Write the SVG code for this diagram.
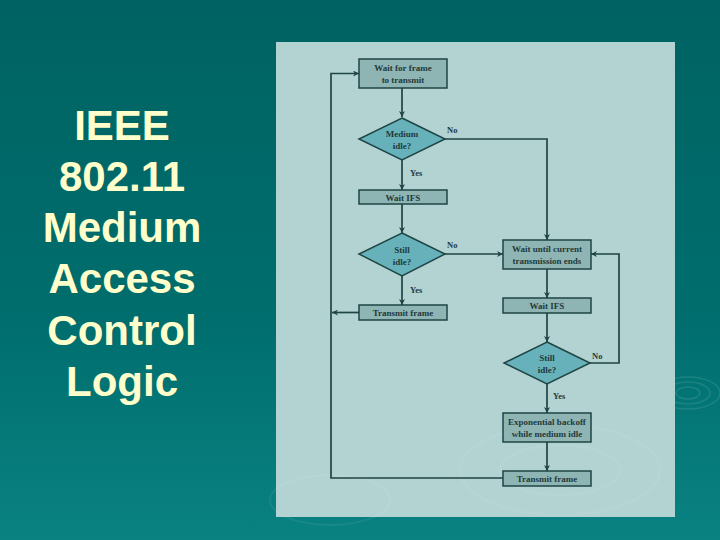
<svg xmlns="http://www.w3.org/2000/svg" width="720" height="540" viewBox="0 0 720 540">
<defs>
<linearGradient id="bg" x1="0" y1="0" x2="0" y2="1">
<stop offset="0" stop-color="#006262"/>
<stop offset="0.6" stop-color="#006e6e"/>
<stop offset="1" stop-color="#0a8282"/>
</linearGradient>
<marker id="arr" viewBox="0 0 10 10" refX="10" refY="5" markerWidth="6" markerHeight="6" orient="auto" markerUnits="userSpaceOnUse">
<path d="M0,0 L10,5 L0,10 L3,5 Z" fill="#1f4444"/>
</marker>
<style>
.title{font-family:"Liberation Sans",Arial,sans-serif;font-weight:bold;font-size:42px;fill:#ffffcc;text-anchor:middle}
.box{fill:#8fb4b4;stroke:#1f4444;stroke-width:1.5}
.dia{fill:#67b2ba;stroke:#1f4444;stroke-width:1.5}
.t{font-family:"Liberation Serif","Times New Roman",serif;font-weight:bold;font-size:9px;fill:#1e3a3a;text-anchor:middle}
.lbl{font-family:"Liberation Serif","Times New Roman",serif;font-weight:bold;font-size:8.5px;fill:#1e3a3a}
.c{fill:none;stroke:#1f4444;stroke-width:1.7}
.rip{fill:none;stroke:#ffffff;stroke-opacity:0.1;stroke-width:1.5}
.rip2{fill:none;stroke:#ffffff;stroke-opacity:0.06;stroke-width:2}
</style>
</defs>
<rect x="0" y="0" width="720" height="540" fill="url(#bg)"/>
<g id="ripples-bg">
<ellipse class="rip" cx="688" cy="393" rx="12" ry="6"/>
<ellipse class="rip" cx="688" cy="393" rx="22" ry="11"/>
<ellipse class="rip" cx="688" cy="393" rx="32" ry="16"/>
</g>
<g id="title">
<text class="title" x="122" y="140">IEEE</text>
<text class="title" x="122" y="191">802.11</text>
<text class="title" x="122" y="242">Medium</text>
<text class="title" x="122" y="293">Access</text>
<text class="title" x="122" y="345">Control</text>
<text class="title" x="122" y="396">Logic</text>
</g>
<rect id="panel" x="276" y="42" width="399" height="475" fill="#b3d3d3"/>
<g id="ripples-panel">
<ellipse class="rip2" cx="560" cy="470" rx="60" ry="25"/>
<ellipse class="rip2" cx="560" cy="470" rx="100" ry="45"/>
<ellipse class="rip2" cx="330" cy="500" rx="60" ry="25"/>
</g>
<g id="connectors">
<path class="c" d="M402,88 V117" marker-end="url(#arr)"/>
<path class="c" d="M402,160 V190" marker-end="url(#arr)"/>
<path class="c" d="M402,204 V233" marker-end="url(#arr)"/>
<path class="c" d="M402,276 V305" marker-end="url(#arr)"/>
<path class="c" d="M359,312.5 H332" marker-end="url(#arr)"/>
<path class="c" d="M445,139 H547 V240" marker-end="url(#arr)"/>
<path class="c" d="M445,254 H503" marker-end="url(#arr)"/>
<path class="c" d="M547,269 V298" marker-end="url(#arr)"/>
<path class="c" d="M547,313 V342" marker-end="url(#arr)"/>
<path class="c" d="M590,363 H619 V254 H591" marker-end="url(#arr)"/>
<path class="c" d="M547,384 V413" marker-end="url(#arr)"/>
<path class="c" d="M547,442 V471" marker-end="url(#arr)"/>
<path class="c" d="M503,478 H331 V73.5 H359" marker-end="url(#arr)"/>
<text class="lbl" x="447" y="133">No</text>
<text class="lbl" x="410" y="176">Yes</text>
<text class="lbl" x="447" y="248">No</text>
<text class="lbl" x="410" y="293">Yes</text>
<text class="lbl" x="592" y="359">No</text>
<text class="lbl" x="553" y="399">Yes</text>
</g>
<g id="wait-frame">
<rect class="box" x="359" y="59" width="88" height="29"/>
<text class="t" x="403" y="71">Wait for frame</text>
<text class="t" x="403" y="83">to transmit</text>
</g>
<g id="medium-idle">
<polygon class="dia" points="402,118 445,139 402,160 359,139"/>
<text class="t" x="402" y="137">Medium</text>
<text class="t" x="402" y="149">idle?</text>
</g>
<g id="wait-ifs-1">
<rect class="box" x="359" y="190" width="88" height="14"/>
<text class="t" x="403" y="200.5">Wait IFS</text>
</g>
<g id="still-idle-1">
<polygon class="dia" points="402,233 445,254 402,276 359,254"/>
<text class="t" x="402" y="253">Still</text>
<text class="t" x="402" y="265">idle?</text>
</g>
<g id="transmit-1">
<rect class="box" x="359" y="305" width="88" height="15"/>
<text class="t" x="403" y="316">Transmit frame</text>
</g>
<g id="wait-until">
<rect class="box" x="503" y="240" width="88" height="29"/>
<text class="t" x="547" y="252">Wait until current</text>
<text class="t" x="547" y="264">transmission ends</text>
</g>
<g id="wait-ifs-2">
<rect class="box" x="503" y="298" width="88" height="15"/>
<text class="t" x="547" y="309">Wait IFS</text>
</g>
<g id="still-idle-2">
<polygon class="dia" points="547,342 590,363 547,384 504,363"/>
<text class="t" x="547" y="361">Still</text>
<text class="t" x="547" y="373">idle?</text>
</g>
<g id="backoff">
<rect class="box" x="503" y="413" width="88" height="29"/>
<text class="t" x="547" y="425">Exponential backoff</text>
<text class="t" x="547" y="437">while medium idle</text>
</g>
<g id="transmit-2">
<rect class="box" x="503" y="471" width="88" height="15"/>
<text class="t" x="547" y="482">Transmit frame</text>
</g>
</svg>
